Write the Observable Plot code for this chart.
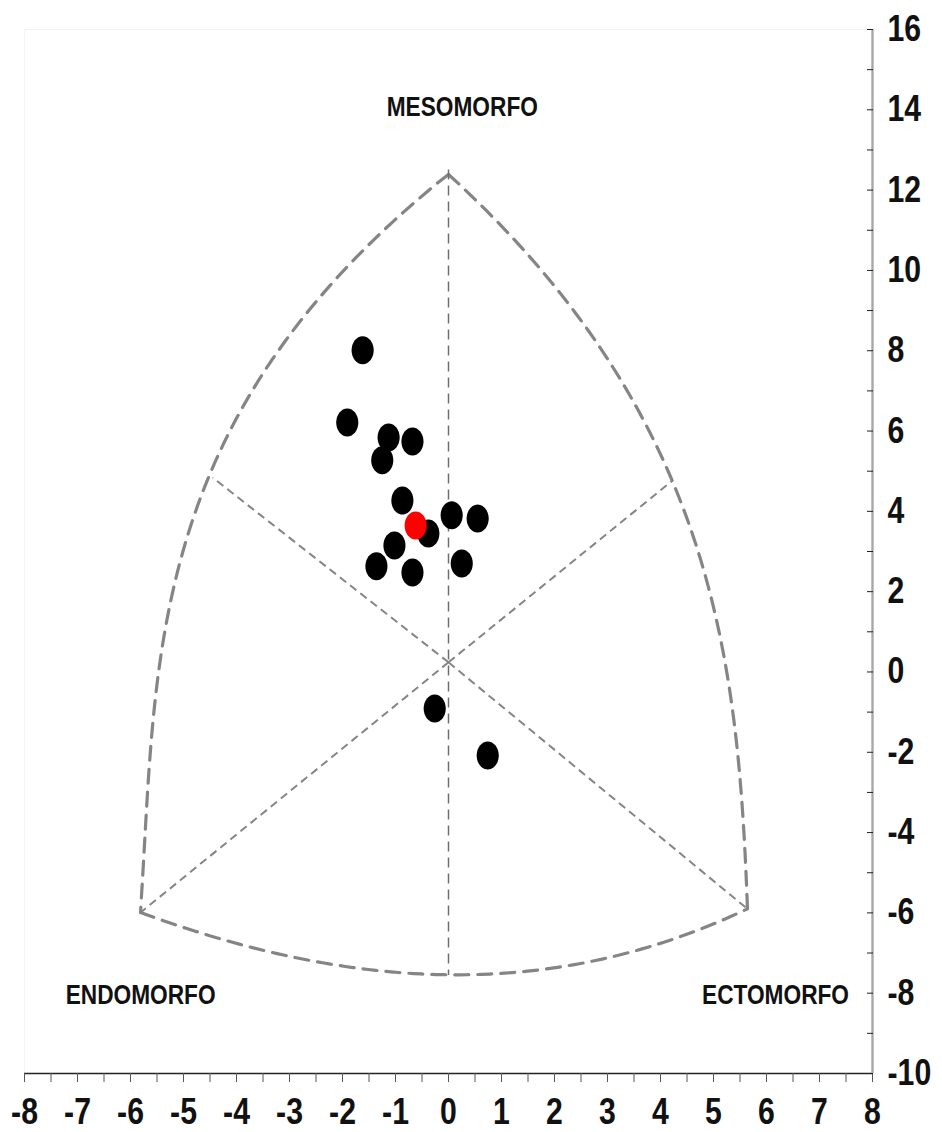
<!DOCTYPE html>
<html>
<head>
<meta charset="utf-8">
<script src="https://cdn.jsdelivr.net/npm/d3@7"></script>
<script src="https://cdn.jsdelivr.net/npm/@observablehq/plot@0.6"></script>
<style>
  html, body { margin: 0; padding: 0; background: #fff; }
  #chart svg { display: block; }
</style>
</head>
<body>
<div id="chart"></div>
<script>
// ---- Data: individual somatotypes (X = ecto - endo, Y = 2*meso - (endo + ecto))
const dotX = [-1.62, -1.91, -1.13, -0.68, -1.25, -0.87, 0.06, 0.55, -0.38, -1.02, -1.36, -0.68, 0.25, -0.26, 0.74];
const dotY = [8.01, 6.21, 5.84, 5.74, 5.27, 4.27, 3.90, 3.82, 3.45, 3.15, 2.63, 2.48, 2.70, -0.91, -2.08];
// mean somatotype (red)
const meanX = [-0.62];
const meanY = [3.65];

// ---- Somatochart outline: points read along each curved side
const leftArcX = [0, -1.85, -3.17, -3.98, -4.45, -4.81, -4.96, -5.58, -5.75, -5.81, -5.81];
const leftArcY = [12.39, 10.5, 8.0, 6.34, 4.84, 3.85, 3.1, -0.88, -3.37, -5.02, -5.99];
const rightArcX = [0, 1.55, 2.36, 3.3, 4.0, 4.23, 4.57, 4.81, 5.26, 5.51, 5.64, 5.64];
const rightArcY = [12.39, 10.5, 8.83, 7.18, 5.51, 4.77, 3.45, 2.45, -0.04, -2.53, -5.02, -5.9];
const bottomArcX = [-5.81, -4.68, -2.17, 0, 2.17, 4.06, 5.64];
const bottomArcY = [-5.99, -6.51, -7.26, -7.56, -7.36, -6.69, -5.9];
// spokes from the centre
const centreX = 0, centreY = 0.24;
const spokeEndX = [-4.45, 4.23, -5.81, 5.64];
const spokeEndY = [4.84, 4.77, -5.99, -5.9];
// vertical line of the chart
const verticalX = [0];
const verticalTop = 12.5, verticalBottom = -7.56;

// ---- Labels
const labelText = ["MESOMORFO", "ENDOMORFO", "ECTOMORFO"];
const labelX = [0.26, -5.81, 6.17];
const labelY = [14.06, -8.06, -8.06];

// ---- Ticks
const xMinorTicks = d3.range(-16, 17).map(d => d / 2);
const xLabels = [-8, -7, -6, -5, -4, -3, -2, -1, 0, 1, 2, 3, 4, 5, 6, 7, 8];
const yMinorTicks = d3.range(-10, 17);
const yLabels = [-10, -8, -6, -4, -2, 0, 2, 4, 6, 8, 10, 12, 14, 16];

// smooth a hand-read side: least-squares cubic of u(t) through the points, ends pinned
function smoothSide(ts, us, n = 80) {
  const deg = 3, m = deg + 1;
  const A = Array.from({length: m}, () => new Array(m).fill(0));
  const b = new Array(m).fill(0);
  ts.forEach((t, i) => {
    const w = (i === 0 || i === ts.length - 1) ? 20 : 1;
    const p = d3.range(m).map(k => t ** k);
    for (let r = 0; r < m; r++) {
      b[r] += w * p[r] * us[i];
      for (let c = 0; c < m; c++) A[r][c] += w * p[r] * p[c];
    }
  });
  // gaussian elimination
  for (let i = 0; i < m; i++) {
    let piv = i;
    for (let r = i + 1; r < m; r++) if (Math.abs(A[r][i]) > Math.abs(A[piv][i])) piv = r;
    [A[i], A[piv]] = [A[piv], A[i]]; [b[i], b[piv]] = [b[piv], b[i]];
    for (let r = i + 1; r < m; r++) {
      const f = A[r][i] / A[i][i];
      for (let c = i; c < m; c++) A[r][c] -= f * A[i][c];
      b[r] -= f * b[i];
    }
  }
  const coef = new Array(m).fill(0);
  for (let i = m - 1; i >= 0; i--) {
    let s = b[i];
    for (let c = i + 1; c < m; c++) s -= A[i][c] * coef[c];
    coef[i] = s / A[i][i];
  }
  const t0 = ts[0], t1 = ts[ts.length - 1];
  return d3.range(n + 1).map(i => {
    const t = t0 + (t1 - t0) * i / n;
    let u = coef.reduce((s, c, k) => s + c * t ** k, 0);
    if (i === 0) u = us[0];
    if (i === n) u = us[us.length - 1];
    return {t, u};
  });
}

const leftArc = smoothSide(leftArcY, leftArcX).map(({t, u}) => ({x: u, y: t}));
const rightArc = smoothSide(rightArcY, rightArcX).map(({t, u}) => ({x: u, y: t}));
const bottomArc = smoothSide(bottomArcX, bottomArcY).map(({t, u}) => ({x: t, y: u}));

const toPts = (xs, ys) => xs.map((x, i) => ({x, y: ys[i]}));
const spokes = spokeEndX.map((x, i) => ({x1: centreX, y1: centreY, x2: x, y2: spokeEndY[i]}));
const labels = labelText.map((t, i) => ({t, x: labelX[i], y: labelY[i]}));

const ellipse = {
  draw(ctx, size) {
    const r = Math.sqrt(size / Math.PI);
    const rx = r * 0.79, ry = r, k = 0.5523;
    ctx.moveTo(rx, 0);
    ctx.bezierCurveTo(rx, ry * k, rx * k, ry, 0, ry);
    ctx.bezierCurveTo(-rx * k, ry, -rx, ry * k, -rx, 0);
    ctx.bezierCurveTo(-rx, -ry * k, -rx * k, -ry, 0, -ry);
    ctx.bezierCurveTo(rx * k, -ry, rx, -ry * k, rx, 0);
    ctx.closePath();
  }
};

const FONT = "'Liberation Sans', Arial, sans-serif";
const grey = "#858585";
const arcStyle = {x: "x", y: "y", stroke: grey, strokeWidth: 3.2, strokeDasharray: "14,9"};

const chart = Plot.plot({
  width: 942,
  height: 1132,
  marginLeft: 24,
  marginRight: 70,
  marginTop: 29,
  marginBottom: 59,
  style: {fontFamily: FONT, background: "#fff", color: "#111"},
  x: {domain: [-8, 8]},
  y: {domain: [-10, 16]},
  marks: [
    Plot.frame({stroke: "#f3f3f3"}),
    // outer curved boundary
    Plot.line(leftArc, arcStyle),
    Plot.line(rightArc, arcStyle),
    Plot.line(bottomArc, arcStyle),
    // spokes
    Plot.link(spokes, {x1: "x1", y1: "y1", x2: "x2", y2: "y2", stroke: grey, strokeWidth: 2, strokeDasharray: "8,5"}),
    // vertical
    Plot.ruleX(verticalX, {y1: verticalTop, y2: verticalBottom, stroke: "#6f6f6f", strokeWidth: 1.5, strokeDasharray: "10,6"}),
    // labels
    Plot.text(labels, {x: "x", y: "y", text: "t", fontSize: 27, fontWeight: "bold", fill: "#111", fontFamily: FONT}),
    // axes
    Plot.ruleY([-10], {stroke: "#222", strokeWidth: 1.6}),
    Plot.axisX({ticks: xMinorTicks, tickSize: 9, tickFormat: () => "", stroke: "#555"}),
    Plot.axisX({ticks: xLabels, tickSize: 0, tickPadding: 25, tickFormat: d => String(d), fontSize: 36, fontWeight: "bold", fill: "#111", fontFamily: FONT}),
    Plot.ruleX([8], {stroke: "#a8a8a8", strokeWidth: 2.4}),
    Plot.axisY({anchor: "right", ticks: yMinorTicks, tickSize: 6, dx: -6, tickFormat: () => "", stroke: "#222"}),
    Plot.axisY({anchor: "right", ticks: yLabels, tickSize: 0, tickPadding: 15, tickFormat: d => String(d), fontSize: 36, fontWeight: "bold", fill: "#111", fontFamily: FONT}),
    // data
    Plot.dot(toPts(dotX, dotY), {x: "x", y: "y", r: 14, symbol: ellipse, fill: "#000", stroke: null}),
    Plot.dot(toPts(meanX, meanY), {x: "x", y: "y", r: 14, symbol: ellipse, fill: "#ff0000", stroke: null})
  ]
});
document.getElementById("chart").appendChild(chart);

// condense the bold text horizontally (the original uses a narrow typeface)
chart.querySelectorAll("text").forEach(t => {
  if (!t.textContent) return;
  const len = t.getComputedTextLength();
  if (len > 0) {
    t.setAttribute("textLength", (len * 0.84).toFixed(1));
    t.setAttribute("lengthAdjust", "spacingAndGlyphs");
  }
});
</script>
</body>
</html>
